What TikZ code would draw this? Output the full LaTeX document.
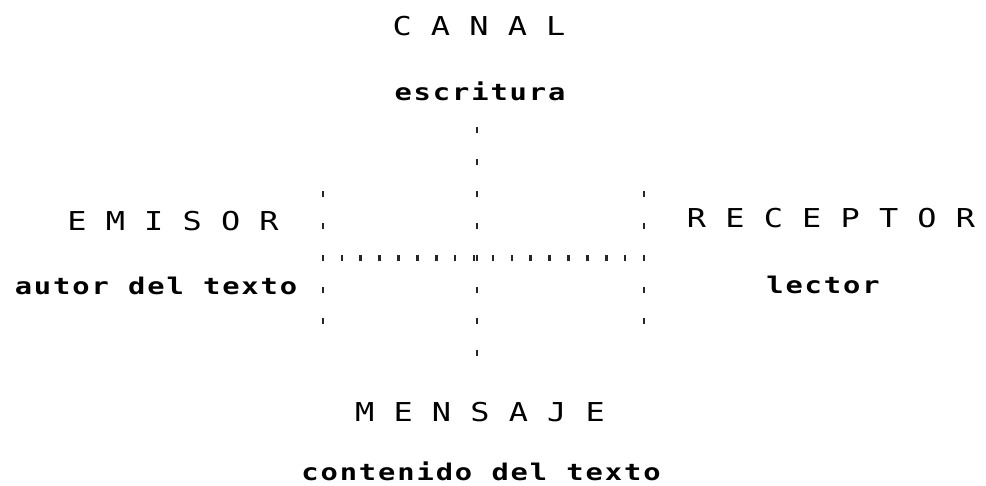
\documentclass[tikz,border=0pt]{standalone}
\usepackage{fontspec}
\usepackage{graphicx}
\newfontfamily\capsfont{DejaVu Sans Mono}
\newfontfamily\lowfont[LetterSpace=6.6]{DejaVu Sans Mono}
\newcommand{\wcaps}[1]{\scalebox{1.227}[1]{#1}}
\newcommand{\wlow}[1]{\scalebox{1.25}[1]{#1}}
\tikzset{
  capslabel/.style={inner sep=0pt, anchor=base, text=black,
    font=\capsfont\fontsize{26}{30}\selectfont},
  lowlabel/.style={inner sep=0pt, anchor=base, text=black,
    font=\lowfont\bfseries\fontsize{23}{27}\selectfont},
  vdots/.style={line width=2.6pt, black!85, dash pattern=on 6pt off 25.9pt},
  hdots/.style={line width=6pt, black!85, dash pattern=on 2.6pt off 16.28pt}
}
\begin{document}
\begin{tikzpicture}[x=1pt,y=-1pt]
\useasboundingbox (0,0) rectangle (986,485);
% labels
\node[capslabel] (canal) at (479,35) {\wcaps{C A N A L}};
\node[lowlabel] (escritura) at (480,100) {\wlow{escritura}};
\node[capslabel] (emisor) at (173,230) {\wcaps{E M I S O R}};
\node[lowlabel] (autor) at (156,294) {\wlow{autor del texto}};
\node[capslabel] (receptor) at (831,227) {\wcaps{R E C E P T O R}};
\node[lowlabel] (lector) at (823,293) {\wlow{lector}};
\node[capslabel] (mensaje) at (480,421) {\wcaps{M E N S A J E}};
\node[lowlabel] (contenido) at (481,480) {\wlow{contenido del texto}};
% dotted cross
\coordinate (ctop) at (477,127);
\coordinate (cbot) at (477,356.3);
\coordinate (ltop) at (323,190.8);
\coordinate (lbot) at (323,324.4);
\coordinate (rtop) at (644,190.8);
\coordinate (rbot) at (644,324.4);
\coordinate (hl) at (321.7,257.6);
\coordinate (hr) at (645.3,257.6);
\draw[vdots] (ctop) -- (cbot);
\draw[vdots] (ltop) -- (lbot);
\draw[vdots] (rtop) -- (rbot);
\draw[hdots] (hl) -- (hr);
\end{tikzpicture}
\end{document}
